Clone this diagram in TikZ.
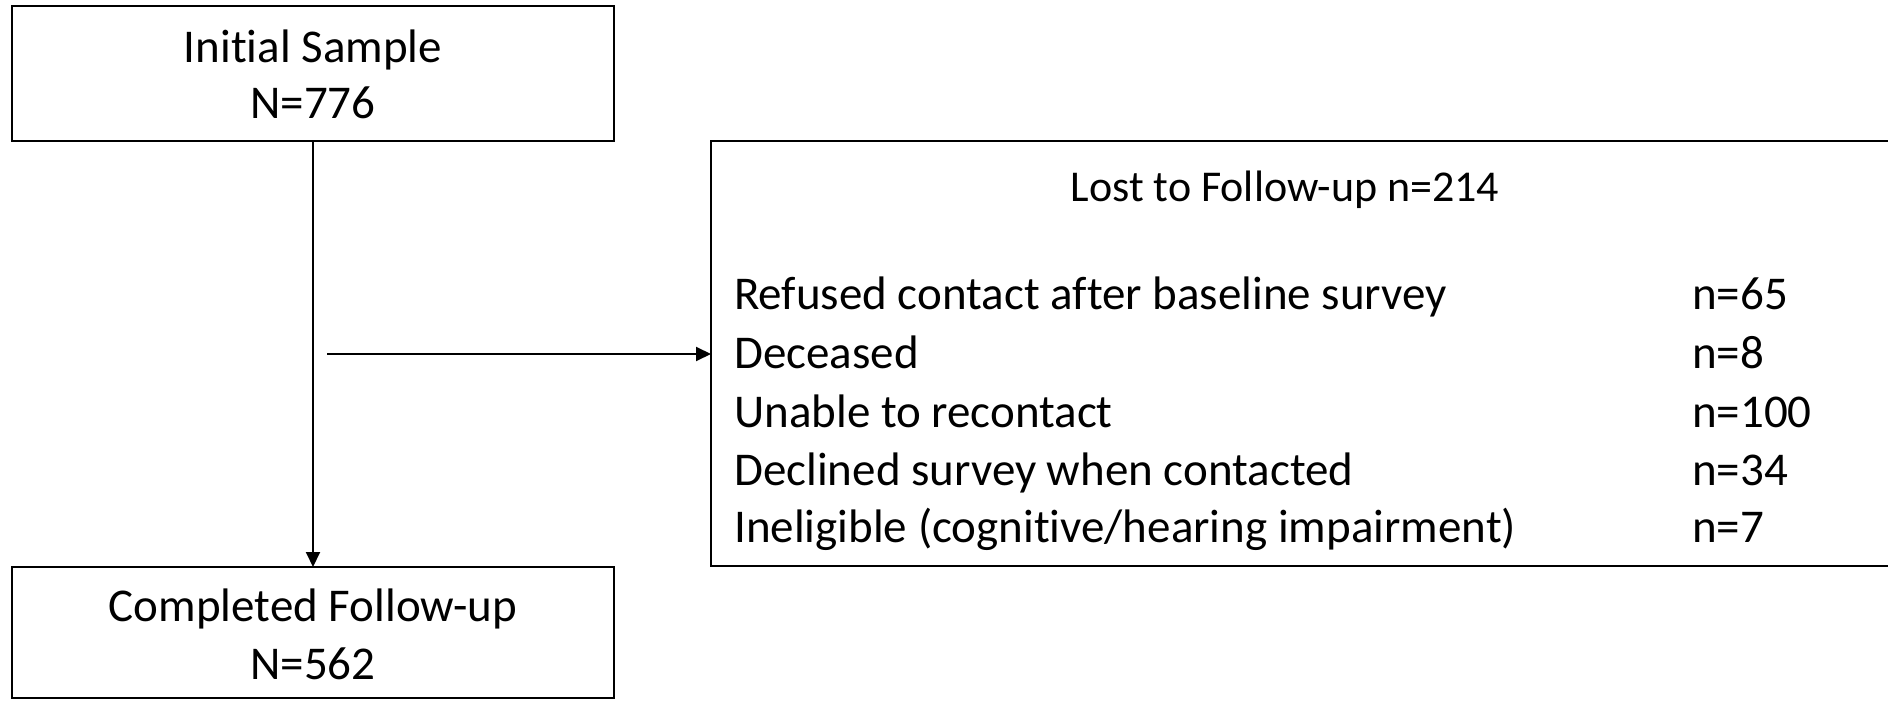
\documentclass[tikz,border=0pt]{standalone}
\usepackage{fontspec}
\setmainfont{Carlito}[Ligatures=NoCommon]
\usetikzlibrary{arrows.meta}
\begin{document}
\begin{tikzpicture}[x=1pt,y=-1pt,
  box/.style={draw=black,line width=2pt,inner sep=0pt,outer sep=0pt},
  txt/.style={inner sep=0pt,font=\fontsize{47}{57}\selectfont},
  ttl/.style={inner sep=0pt,font=\fontsize{44}{54}\selectfont},
  arr/.style={line width=2pt,-{Triangle[length=15pt,width=14pt]}}]
\useasboundingbox (0,0) rectangle (1888,703);
\begin{scope}
\clip (0,0) rectangle (1888,703);
\node[box,minimum width=1190pt,minimum height=425pt] (lost) at (1306,353.5) {};
\end{scope}
\node[box,minimum width=602pt,minimum height=135pt] (init) at (313,73.5) {};
\node[box,minimum width=602pt,minimum height=131pt] (comp) at (313,632.5) {};
\node[txt] (t1) at (313,50) {Initial Sample};
\node[txt] (t2) at (313,103) {N=776};
\node[txt] (t3) at (313,609) {Completed Follow-up};
\node[txt] (t4) at (313,664) {N=562};
\node[ttl] (lt) at (1285,190) {Lost to Follow-up n=214};
\node[txt,anchor=base west] (a1) at (734,310) {Refused contact after baseline survey};
\node[txt,anchor=base west] (a2) at (734,368) {Deceased};
\node[txt,anchor=base west] (a3) at (734,427) {Unable to recontact};
\node[txt,anchor=base west] (a4) at (734,485) {Declined survey when contacted};
\node[txt,anchor=base west] (a5) at (734,542) {Ineligible (cognitive/hearing impairment)};
\node[txt,anchor=base west] (b1) at (1692,310) {n=65};
\node[txt,anchor=base west] (b2) at (1692,368) {n=8};
\node[txt,anchor=base west] (b3) at (1692,427) {n=100};
\node[txt,anchor=base west] (b4) at (1692,485) {n=34};
\node[txt,anchor=base west] (b5) at (1692,542) {n=7};
\coordinate (hs) at (327,354);
\draw[arr] (init.south) -- (comp.north);
\draw[arr] (hs) -- (hs -| lost.west);
\end{tikzpicture}
\end{document}
